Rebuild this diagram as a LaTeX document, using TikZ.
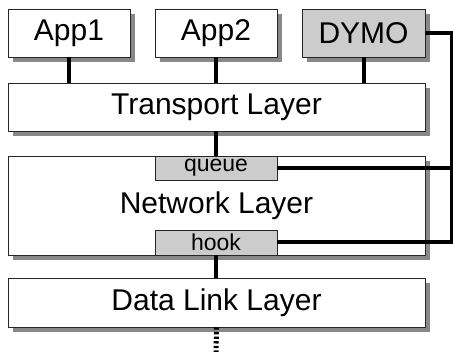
\documentclass[tikz,border=0pt]{standalone}
\usepackage{fontspec}
\setmainfont{Liberation Sans}
\usetikzlibrary{shadows}
\definecolor{shadowgray}{RGB}{136,136,136}
\definecolor{boxgray}{RGB}{204,204,204}
\tikzset{
  layerbox/.style={draw=black!85, line width=0.8pt, fill=white, inner sep=0pt,
    font=\fontsize{30}{30}\selectfont,
    drop shadow={shadow xshift=5pt, shadow yshift=-5pt, fill=shadowgray, opacity=1}},
  graybox/.style={layerbox, fill=boxgray},
  subbox/.style={draw=black!85, line width=0.8pt, fill=boxgray, inner sep=0pt,
    font=\fontsize{23}{23}\selectfont},
  wire/.style={line width=4pt, black},
  dotwire/.style={line width=5pt, black, dash pattern=on 2.3pt off 2.3pt},
}
\begin{document}
\begin{tikzpicture}[x=1pt, y=-1pt]
\useasboundingbox (0,0) rectangle (453,352);
\node[layerbox, minimum width=122pt, minimum height=48pt] (app1) at (69,33) {App1};
\node[layerbox, minimum width=122pt, minimum height=48pt] (app2) at (216,33) {App2};
\node[graybox, minimum width=123pt, minimum height=48pt] (dymo) at (363.5,33) {DYMO};
\node[layerbox, minimum width=417pt, minimum height=48pt] (transport) at (216.5,107) {Transport Layer};
\node[layerbox, minimum width=417pt, minimum height=99pt] (network) at (216.5,205.5) {Network Layer};
\node[subbox, minimum width=122pt, minimum height=24pt] (queue) at (216,168) {queue};
\node[subbox, minimum width=122pt, minimum height=25pt] (hook) at (216,242.5) {hook};
\node[layerbox, minimum width=417pt, minimum height=49pt] (datalink) at (216.5,302.5) {Data Link Layer};
\coordinate (rtop) at (452,33);
\coordinate (rbot) at (452,242.5);
\coordinate (qright) at (452,168);
\coordinate (bottomend) at (216,352);
\draw[wire] (app1.south) -- (app1.south |- transport.north);
\draw[wire] (app2.south) -- (app2.south |- transport.north);
\draw[wire] (dymo.south) -- (dymo.south |- transport.north);
\draw[wire] (queue.north) -- (queue.north |- transport.south);
\draw[wire] (hook.south) -- (hook.south |- datalink.north);
\draw[wire] (dymo.east) -- (rtop) -- (rbot) -- (hook.east);
\draw[wire] (queue.east) -- (qright);
\draw[dotwire] (datalink.south) -- (bottomend);
\end{tikzpicture}
\end{document}
